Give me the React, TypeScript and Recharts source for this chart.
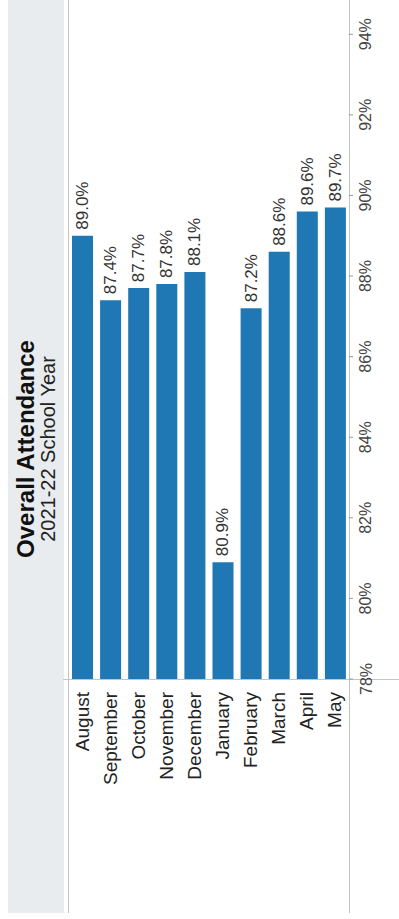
import React from 'react';
import { BarChart, Bar, XAxis, YAxis, LabelList } from 'recharts';

const MONTHS = ['August', 'September', 'October', 'November', 'December', 'January', 'February', 'March', 'April', 'May'];
const ATTENDANCE = [89.0, 87.4, 87.7, 87.8, 88.1, 80.9, 87.2, 88.6, 89.6, 89.7];
const VALUE_TICKS = [78, 80, 82, 84, 86, 88, 90, 92, 94];

const FONT = '"Liberation Sans", Arial, sans-serif';
const BAR_COLOR = '#1f77b4';
const LINE_COLOR = '#c4c4c4';

const data = MONTHS.map((month, i) => ({ month, value: ATTENDANCE[i] }));

// month names run bottom-to-top, ending just under the axis
const MonthTick = ({ x, y, payload }: any) => (
    <text
        x={x}
        y={y + 5}
        transform={`rotate(-90, ${x}, ${y + 5})`}
        textAnchor="end"
        dominantBaseline="central"
        fontSize={19}
        fontFamily={FONT}
        fill="#222"
    >
        {payload.value}
    </text>
);

const PercentTick = ({ x, y, payload }: any) => (
    <text
        x={x + 13}
        y={y}
        transform={`rotate(-90, ${x + 13}, ${y})`}
        textAnchor="middle"
        dominantBaseline="central"
        fontSize={16}
        fontFamily={FONT}
        fill="#444"
    >
        {`${payload.value}%`}
    </text>
);

const ValueLabel = ({ x, y, width, value }: any) => {
    const cx = x + width / 2;
    const ty = y - 6;
    return (
        <text
            x={cx}
            y={ty}
            transform={`rotate(-90, ${cx}, ${ty})`}
            textAnchor="start"
            dominantBaseline="central"
            fontSize={17}
            fontFamily={FONT}
            fill="#333"
        >
            {`${Number(value).toFixed(1)}%`}
        </text>
    );
};

export default function App() {
    return (
        <div style={{ position: 'absolute', left: 0, top: 0, width: 399, height: 919, background: '#fff' }}>
            {/* title panel */}
            <div style={{ position: 'absolute', left: 8, top: 0, width: 56, height: 913, background: '#e9ecef' }} />
            <svg style={{ position: 'absolute', left: 0, top: 0 }} width={66} height={913}>
                <text
                    x={25}
                    y={449}
                    transform="rotate(-90, 25, 449)"
                    textAnchor="middle"
                    dominantBaseline="central"
                    fontSize={24}
                    fontWeight="bold"
                    fontFamily={FONT}
                    fill="#111"
                >
                    Overall Attendance
                </text>
                <text
                    x={48}
                    y={449}
                    transform="rotate(-90, 48, 449)"
                    textAnchor="middle"
                    dominantBaseline="central"
                    fontSize={20}
                    fontFamily={FONT}
                    fill="#222"
                >
                    2021-22 School Year
                </text>
            </svg>

            {/* frame lines */}
            <div style={{ position: 'absolute', left: 68, top: 0, width: 1, height: 913, background: LINE_COLOR }} />
            <div style={{ position: 'absolute', left: 349, top: 0, width: 1, height: 913, background: LINE_COLOR }} />
            <div style={{ position: 'absolute', left: 63, top: 679, width: 336, height: 1, background: LINE_COLOR }} />

            <div style={{ position: 'absolute', left: 68, top: 0 }}>
                <BarChart width={331} height={913} data={data} margin={{ top: 0, right: 0, bottom: 0, left: 0 }}>
                    <XAxis
                        dataKey="month"
                        height={234}
                        interval={0}
                        axisLine={false}
                        tickLine={false}
                        tick={<MonthTick />}
                    />
                    <YAxis
                        orientation="right"
                        width={50}
                        domain={[78, 94.85]}
                        ticks={VALUE_TICKS}
                        allowDataOverflow
                        axisLine={false}
                        tickSize={4}
                        tickMargin={0}
                        tickLine={{ stroke: '#999' }}
                        tick={<PercentTick />}
                    />
                    <Bar dataKey="value" fill={BAR_COLOR} barSize={21} isAnimationActive={false}>
                        <LabelList dataKey="value" content={<ValueLabel />} />
                    </Bar>
                </BarChart>
            </div>
        </div>
    );
}
